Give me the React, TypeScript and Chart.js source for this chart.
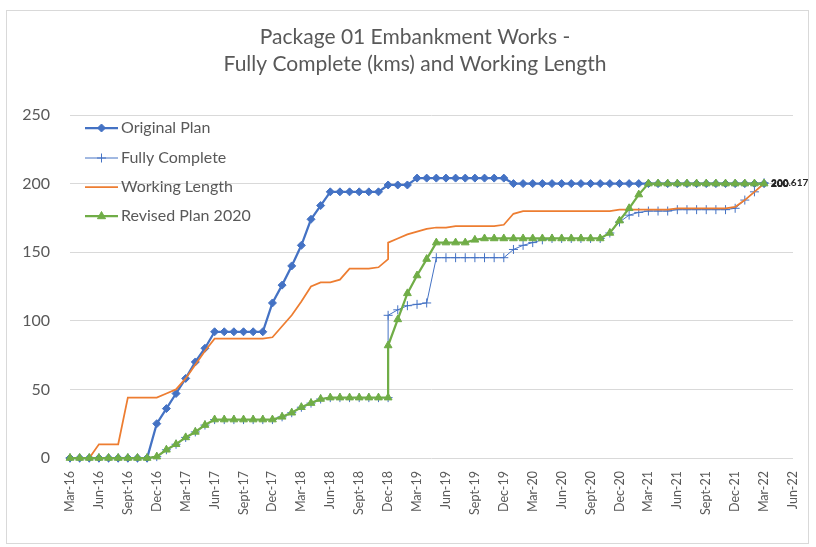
import React, { useEffect, useRef } from 'react';
import { Chart, registerables } from 'chart.js';

Chart.register(...registerables);

const months = [
  'Mar-16', 'Apr-16', 'May-16', 'Jun-16', 'Jul-16', 'Aug-16', 'Sept-16', 'Oct-16', 'Nov-16', 'Dec-16',
  'Jan-17', 'Feb-17', 'Mar-17', 'Apr-17', 'May-17', 'Jun-17', 'Jul-17', 'Aug-17', 'Sept-17', 'Oct-17', 'Nov-17', 'Dec-17',
  'Jan-18', 'Feb-18', 'Mar-18', 'Apr-18', 'May-18', 'Jun-18', 'Jul-18', 'Aug-18', 'Sept-18', 'Oct-18', 'Nov-18', 'Dec-18',
  'Jan-19', 'Feb-19', 'Mar-19', 'Apr-19', 'May-19', 'Jun-19', 'Jul-19', 'Aug-19', 'Sept-19', 'Oct-19', 'Nov-19', 'Dec-19',
  'Jan-20', 'Feb-20', 'Mar-20', 'Apr-20', 'May-20', 'Jun-20', 'Jul-20', 'Aug-20', 'Sept-20', 'Oct-20', 'Nov-20', 'Dec-20',
  'Jan-21', 'Feb-21', 'Mar-21', 'Apr-21', 'May-21', 'Jun-21', 'Jul-21', 'Aug-21', 'Sept-21', 'Oct-21', 'Nov-21', 'Dec-21',
  'Jan-22', 'Feb-22', 'Mar-22', 'Apr-22', 'May-22', 'Jun-22',
];

// Original Plan
const originalPlan = [
  0, 0, 0, 0, 0, 0, 0, 0, 0, 25,
  36, 47, 58, 70, 80, 92, 92, 92, 92, 92, 92, 113,
  126, 140, 155, 174, 184, 194, 194, 194, 194, 194, 194, 199,
  199, 199, 204, 204, 204, 204, 204, 204, 204, 204, 204, 204,
  200, 200, 200, 200, 200, 200, 200, 200, 200, 200, 200, 200,
  200, 200, 200, 200, 200, 200, 200, 200, 200, 200, 200, 200,
  200, 200, 200, null, null, null,
];

// Fully Complete
const fullyComplete = [
  0, 0, 0, 0, 0, 0, 0, 0, 0, 1,
  6, 10, 15, 19, 24, 28, 28, 28, 28, 28, 28, 28,
  30, 33, 37, 40, 43, 44, 44, 44, 44, 44, 44, 104,
  108, 111, 112, 113, 146, 146, 146, 146, 146, 146, 146, 146,
  152, 155, 157, 159, 160, 160, 160, 160, 160, 160, 164, 172,
  177, 179, 180, 180, 180, 181, 181, 181, 181, 181, 181, 182,
  188, 194, 200.617, null, null, null,
];

// Working Length
const workingLength = [
  0, 0, 0, 10, 10, 10, 44, 44, 44, 44,
  47, 50, 58, 68, 78, 87, 87, 87, 87, 87, 87, 88,
  96, 104, 114, 125, 128, 128, 130, 138, 138, 138, 139, 157,
  160, 163, 165, 167, 168, 168, 169, 169, 169, 169, 169, 170,
  178, 180, 180, 180, 180, 180, 180, 180, 180, 180, 180, 181,
  181, 181, 181, 181, 181, 182, 182, 182, 182, 182, 182, 183,
  188, 194, 200, null, null, null,
];

// Revised Plan 2020
const revisedPlan = [
  0, 0, 0, 0, 0, 0, 0, 0, 0, 1,
  6, 10, 15, 19, 24, 28, 28, 28, 28, 28, 28, 28,
  30, 33, 37, 40, 43, 44, 44, 44, 44, 44, 44, 82,
  101, 120, 133, 145, 157, 157, 157, 157, 159, 160, 160, 160,
  160, 160, 160, 160, 160, 160, 160, 160, 160, 160, 164, 173,
  182, 192, 200, 200, 200, 200, 200, 200, 200, 200, 200, 200,
  200, 200, 200, null, null, null,
];

// Two readings fall in the same month (start and end of Dec-18)
const splitMonth = 'Dec-18';
const fullyCompleteSplitStart = 44;
const workingLengthSplitStart = 145;
const revisedPlanSplitStart = 44;

const titleLines = ['Package 01 Embankment Works -', 'Fully Complete (kms) and Working Length'];
const seriesNames = ['Original Plan', 'Fully Complete', 'Working Length', 'Revised Plan 2020'];
const endLabels = ['200', '200.617', '200', '200'];

const BLUE = '#4472C4';
const ORANGE = '#ED7D31';
const GREEN = '#70AD47';
const TEXT = '#595959';
const FONT = 'Lato, "Open Sans", sans-serif';

function toPoints(values: (number | null)[], splitStart?: number) {
  const pts: { x: string; y: number }[] = [];
  values.forEach((v, i) => {
    if (months[i] === splitMonth && splitStart !== undefined) pts.push({ x: months[i], y: splitStart });
    if (v !== null) pts.push({ x: months[i], y: v });
  });
  return pts;
}

function drawPointShape(ctx: CanvasRenderingContext2D, style: string, r: number, x: number, y: number) {
  ctx.beginPath();
  if (style === 'rectRot') {
    ctx.moveTo(x, y - r);
    ctx.lineTo(x + r, y);
    ctx.lineTo(x, y + r);
    ctx.lineTo(x - r, y);
    ctx.closePath();
    ctx.fill();
    ctx.stroke();
  } else if (style === 'triangle') {
    ctx.moveTo(x, y - r);
    ctx.lineTo(x + r * 0.9, y + r * 0.6);
    ctx.lineTo(x - r * 0.9, y + r * 0.6);
    ctx.closePath();
    ctx.fill();
    ctx.stroke();
  } else if (style === 'cross') {
    ctx.moveTo(x - r, y);
    ctx.lineTo(x + r, y);
    ctx.moveTo(x, y - r);
    ctx.lineTo(x, y + r);
    ctx.stroke();
  }
}

const titlePlugin = {
  id: 'customTitle',
  afterDraw(chart: any) {
    const ctx = chart.ctx;
    ctx.save();
    ctx.fillStyle = TEXT;
    ctx.font = `21px ${FONT}`;
    ctx.textAlign = 'center';
    ctx.textBaseline = 'middle';
    ctx.fillText(titleLines[0], 415, 37);
    ctx.fillText(titleLines[1], 415, 64);
    ctx.restore();
  },
};

const legendPlugin = {
  id: 'legendInside',
  afterDraw(chart: any) {
    const ctx = chart.ctx;
    const rows = [128, 158, 187, 216];
    ctx.save();
    seriesNames.forEach((name, i) => {
      const ds = chart.data.datasets[i];
      const y = rows[i];
      ctx.strokeStyle = ds.borderColor;
      ctx.lineWidth = ds.borderWidth;
      ctx.beginPath();
      ctx.moveTo(85, y);
      ctx.lineTo(118, y);
      ctx.stroke();
      if (ds.pointRadius > 0) {
        ctx.fillStyle = ds.pointBackgroundColor;
        ctx.strokeStyle = ds.pointBorderColor;
        ctx.lineWidth = ds.pointBorderWidth;
        drawPointShape(ctx, ds.pointStyle, ds.pointRadius, 101.5, y);
      }
      ctx.fillStyle = TEXT;
      ctx.font = `16px ${FONT}`;
      ctx.textAlign = 'left';
      ctx.textBaseline = 'middle';
      ctx.fillText(name, 121, y);
    });
    // end-of-series data labels
    ctx.fillStyle = '#262626';
    ctx.font = `bold 10px ${FONT}`;
    ctx.textBaseline = 'middle';
    chart.data.datasets.forEach((_ds: any, i: number) => {
      const meta = chart.getDatasetMeta(i);
      const last = meta.data[meta.data.length - 1];
      if (last) ctx.fillText(endLabels[i], last.x + 7, last.y);
    });
    ctx.restore();
  },
};

export default function App() {
  const ref = useRef<HTMLCanvasElement | null>(null);

  useEffect(() => {
    document.body.style.margin = '0';
    const canvas = ref.current;
    if (!canvas) return;

    const chart = new Chart(canvas, {
      type: 'line',
      data: {
        labels: months,
        datasets: [
          {
            label: seriesNames[0],
            data: toPoints(originalPlan) as any,
            borderColor: BLUE,
            backgroundColor: BLUE,
            borderWidth: 2.25,
            pointStyle: 'rectRot',
            pointRadius: 4,
            pointBackgroundColor: BLUE,
            pointBorderColor: BLUE,
            pointBorderWidth: 1,
            tension: 0,
            order: 3,
            clip: false as any,
          },
          {
            label: seriesNames[1],
            data: toPoints(fullyComplete, fullyCompleteSplitStart) as any,
            borderColor: BLUE,
            backgroundColor: BLUE,
            borderWidth: 1,
            pointStyle: 'cross',
            pointRadius: 4.5,
            pointBackgroundColor: BLUE,
            pointBorderColor: BLUE,
            pointBorderWidth: 1,
            tension: 0,
            order: 2,
            clip: false as any,
          },
          {
            label: seriesNames[2],
            data: toPoints(workingLength, workingLengthSplitStart) as any,
            borderColor: ORANGE,
            backgroundColor: ORANGE,
            borderWidth: 1.75,
            pointRadius: 0,
            pointStyle: 'circle',
            pointBackgroundColor: ORANGE,
            pointBorderColor: ORANGE,
            pointBorderWidth: 0,
            tension: 0,
            order: 1,
            clip: false as any,
          },
          {
            label: seriesNames[3],
            data: toPoints(revisedPlan, revisedPlanSplitStart) as any,
            borderColor: GREEN,
            backgroundColor: GREEN,
            borderWidth: 2.25,
            pointStyle: 'triangle',
            pointRadius: 4.5,
            pointBackgroundColor: GREEN,
            pointBorderColor: GREEN,
            pointBorderWidth: 1,
            tension: 0,
            order: 0,
            clip: false as any,
          },
        ],
      },
      options: {
        animation: false,
        responsive: false,
        maintainAspectRatio: false,
        devicePixelRatio: 1,
        layout: { padding: { top: 115, right: 23, left: 0, bottom: 0 } },
        plugins: {
          legend: { display: false },
          title: { display: false },
          tooltip: { enabled: false },
        },
        scales: {
          x: {
            type: 'category',
            offset: false,
            grid: { display: false },
            border: { display: false },
            afterFit: (s: any) => { s.height = 89; },
            ticks: {
              autoSkip: false,
              minRotation: 90,
              maxRotation: 90,
              padding: 5,
              color: TEXT,
              font: { family: FONT, size: 12.5 },
              callback: (_v: any, index: number) => (index % 3 === 0 ? months[index] : ''),
            },
          },
          y: {
            min: 0,
            max: 250,
            border: { display: false },
            afterFit: (s: any) => { s.width = 70; },
            grid: { color: '#D9D9D9', lineWidth: 1, drawTicks: false },
            ticks: {
              stepSize: 50,
              padding: 20,
              color: TEXT,
              font: { family: FONT, size: 16 },
            },
          },
        },
      },
      plugins: [titlePlugin, legendPlugin],
    });

    return () => chart.destroy();
  }, []);

  return (
    <div style={{ position: 'relative', width: 816, height: 547, background: '#fff' }}>
      <canvas ref={ref} width={816} height={547} style={{ display: 'block' }} />
      <div
        style={{
          position: 'absolute',
          left: 6,
          top: 10,
          width: 801,
          height: 532,
          border: '1px solid #D9D9D9',
          pointerEvents: 'none',
        }}
      />
    </div>
  );
}
